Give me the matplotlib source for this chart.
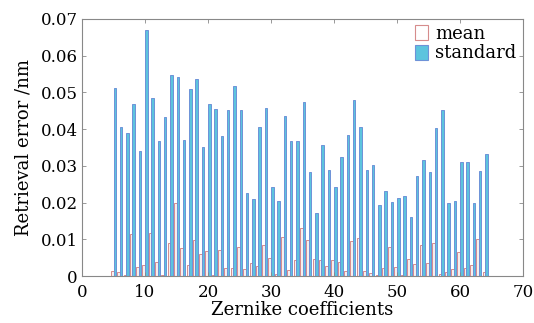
import numpy as np
import matplotlib
matplotlib.use("Agg")
import matplotlib.pyplot as plt
from matplotlib.patches import Patch
from matplotlib.ticker import FuncFormatter

# Zernike coefficient index 5..64
coeffs = np.arange(5, 65)

mean_err = [0.0013, 0.0010, 0.0004, 0.0114, 0.0024, 0.0030, 0.0117, 0.0037, 0.0004, 0.0090,
            0.0198, 0.0077, 0.0030, 0.0098, 0.0060, 0.0068, 0.0004, 0.0071, 0.0023, 0.0022,
            0.0079, 0.0018, 0.0035, 0.0027, 0.0084, 0.0048, 0.0005, 0.0107, 0.0016, 0.0043,
            0.0132, 0.0097, 0.0046, 0.0043, 0.0027, 0.0044, 0.0037, 0.0014, 0.0095, 0.0103,
            0.0014, 0.0007, 0.0003, 0.0023, 0.0079, 0.0025, 0.0003, 0.0046, 0.0033, 0.0084,
            0.0035, 0.0089, 0.0006, 0.0010, 0.0019, 0.0065, 0.0022, 0.0029, 0.0101, 0.0010]

std_err = [0.0511, 0.0406, 0.0389, 0.0469, 0.0340, 0.0669, 0.0486, 0.0368, 0.0432, 0.0548,
           0.0541, 0.0370, 0.0509, 0.0536, 0.0350, 0.0468, 0.0455, 0.0381, 0.0452, 0.0518,
           0.0452, 0.0225, 0.0209, 0.0407, 0.0457, 0.0243, 0.0205, 0.0437, 0.0369, 0.0367,
           0.0475, 0.0282, 0.0171, 0.0357, 0.0289, 0.0242, 0.0323, 0.0384, 0.0479, 0.0406,
           0.0289, 0.0303, 0.0193, 0.0231, 0.0202, 0.0212, 0.0218, 0.0160, 0.0272, 0.0315,
           0.0284, 0.0402, 0.0451, 0.0200, 0.0204, 0.0310, 0.0310, 0.0199, 0.0285, 0.0332]

plt.rcParams['font.family'] = ['DejaVu Serif']

fig = plt.figure(figsize=(5.34, 3.23), dpi=100)
ax = fig.add_axes([0.1536, 0.1455, 0.8258, 0.7957])

w = 0.4
ax.bar(coeffs - w/2, mean_err, width=w, facecolor='#f6eeee', edgecolor='#d68c8c', linewidth=0.7)
ax.bar(coeffs + w/2, std_err, width=w, facecolor='#5cc4de', edgecolor='#6e92d8', linewidth=0.7)

ax.set_xlim(0, 70)
ax.set_ylim(0, 0.07)
ax.set_xticks(np.arange(0, 71, 10))
ax.set_yticks(np.arange(0, 0.071, 0.01))
ax.yaxis.set_major_formatter(FuncFormatter(lambda v, p: "%g" % round(v, 3)))
ax.tick_params(direction='in', length=3, width=0.6, color='#888888',
               top=True, right=True, labelsize=12)
ax.tick_params(axis='x', pad=6)
ax.tick_params(axis='y', pad=3)
for s in ax.spines.values():
    s.set_color('#888888')
    s.set_linewidth(0.8)

ax.set_xlabel('Zernike coefficients', fontsize=13, labelpad=0)
ax.set_ylabel('Retrieval error /nm', fontsize=13, labelpad=6)

handles = [Patch(facecolor='white', edgecolor='#d68c8c', linewidth=0.8),
           Patch(facecolor='#5cc4de', edgecolor='#6e92d8', linewidth=0.8)]
ax.legend(handles, ['mean', 'standard'], loc='upper right', bbox_to_anchor=(1.01, 1.02),
          frameon=False, fontsize=13, handlelength=0.7, handleheight=0.9,
          handletextpad=0.4, labelspacing=0.1, borderaxespad=0.2)

fig.savefig('out.png', dpi=100)
